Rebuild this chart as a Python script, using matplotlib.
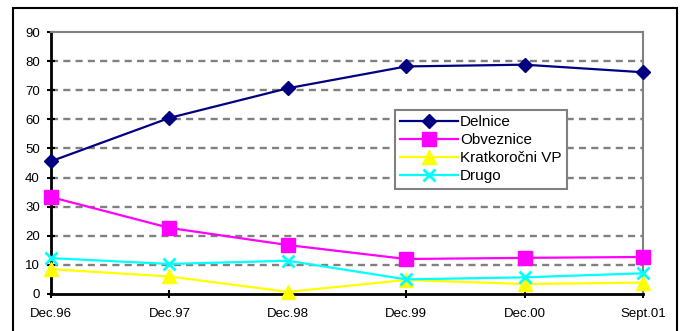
import matplotlib
matplotlib.use("Agg")
import matplotlib.pyplot as plt
from matplotlib.patches import Rectangle

plt.rcParams['font.family'] = ['Liberation Sans', 'DejaVu Sans']

categories = ["Dec.96", "Dec.97", "Dec.98", "Dec.99", "Dec.00", "Sept.01"]
delnice = [45.6, 60.5, 70.7, 78.2, 78.8, 76.2]
obveznice = [33.3, 22.7, 16.8, 12.0, 12.4, 12.7]
kratkorocni = [8.5, 6.0, 0.7, 4.8, 3.4, 3.9]
drugo = [12.3, 10.3, 11.4, 5.0, 5.7, 7.1]
y_ticks = [0, 10, 20, 30, 40, 50, 60, 70, 80, 90]

fig = plt.figure(figsize=(6.8, 3.31), dpi=100)
ax = fig.add_axes([0.075, 0.112, 0.8706, 0.791])

x = list(range(len(categories)))

ax.plot(x, delnice, color="#000080", lw=1.6, marker="D", ms=7, label="Delnice", zorder=5, clip_on=False)
ax.plot(x, obveznice, color="#FF00FF", lw=1.6, marker="s", ms=9.5, label="Obveznice", zorder=5, clip_on=False)
ax.plot(x, kratkorocni, color="#FFFF00", lw=1.6, marker="^", ms=10, label="Kratkoročni VP", zorder=5, clip_on=False)
ax.plot(x, drugo, color="#00FFFF", lw=1.6, marker="x", ms=9, mew=2, label="Drugo", zorder=5, clip_on=False)

ax.set_xlim(0, len(categories) - 1)
ax.set_ylim(0, 90)
ax.set_xticks(x)
ax.set_xticklabels(categories, fontsize=9.5)
ax.set_yticks(y_ticks)
ax.set_yticklabels([str(v) for v in y_ticks], fontsize=9.5)

for v in y_ticks[1:-1]:
    ax.axhline(v, color="#808080", lw=1.7, ls=(0, (3.0, 2.2)), zorder=1)

ax.spines['left'].set_color('black')
ax.spines['left'].set_linewidth(2)
ax.spines['bottom'].set_color('black')
ax.spines['bottom'].set_linewidth(2)
ax.spines['top'].set_color('#808080')
ax.spines['top'].set_linewidth(1.5)
ax.spines['right'].set_color('#808080')
ax.spines['right'].set_linewidth(1.5)

ax.tick_params(axis='both', direction='inout', length=6, width=1.5, color='black', pad=5)
ax.tick_params(axis='x', pad=7)

leg = ax.legend(loc='upper left', bbox_to_anchor=(0.581, 0.702), fontsize=11,
                frameon=True, fancybox=False, edgecolor='#808080', framealpha=1,
                borderpad=0.35, labelspacing=0.26, handlelength=3.8, handletextpad=0.1,
                borderaxespad=0)
leg.get_frame().set_linewidth(1.5)

fig.patches.append(Rectangle((13 / 680, -0.05), (677 - 13) / 680, 1.05 - 8 / 331,
                             transform=fig.transFigure, fill=False, edgecolor='black',
                             lw=1.5, clip_on=False))

fig.savefig("out.png", dpi=100)
